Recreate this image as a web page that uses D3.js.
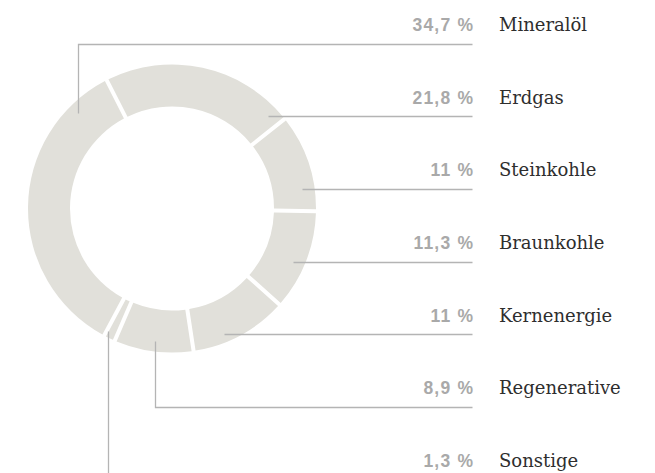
<!DOCTYPE html>
<html>
<head>
<meta charset="utf-8">
<script src="https://cdn.jsdelivr.net/npm/d3@7"></script>
<style>
  html, body { margin: 0; padding: 0; background: #fff; }
  svg { display: block; }
</style>
</head>
<body>
<svg id="chart" width="655" height="473"></svg>
<script>
// ---- data ----
const categories = ["Mineralöl", "Erdgas", "Steinkohle", "Braunkohle", "Kernenergie", "Regenerative", "Sonstige"];
const shares = [34.7, 21.8, 11, 11.3, 11, 8.9, 1.3];
const shareLabels = ["34,7 %", "21,8 %", "11 %", "11,3 %", "11 %", "8,9 %", "1,3 %"];

// ---- layout ----
const W = 655, H = 473;
const cx = 172, cy = 208.5;
const rOuter = 144, rInner = 102, rAnchor = 134;
const lineEndX = 472;
const pctRightX = 473;
const nameX = 499;
const startDeg = -151.9;
const toRad = d => d * Math.PI / 180;

// leader style: "h" = horizontal from ring at row height, "v" = elbow (vertical, then horizontal)
const leaderType = ["v", "h", "h", "h", "h", "v", "v"];
const elbowFrac = [0.86, 0.5, 0.5, 0.5, 0.5, 0.5, 0.9];
const anchorR = [134, 133, 131, 132, 136, 134, 138];

const svg = d3.select("#chart");

const rows = d3.scalePoint().domain(categories).range([31, 467]);

const pie = d3.pie().sort(null).value(d => d.v)
  .startAngle(toRad(startDeg)).endAngle(toRad(startDeg) + 2 * Math.PI);
const arcs = pie(categories.map((c, i) => ({ c, v: shares[i], i })));

const arc = d3.arc().innerRadius(rInner).outerRadius(rOuter)
  .padAngle(0.04).padRadius(100);

const g = svg.append("g").attr("transform", `translate(${cx},${cy})`);
g.selectAll("path.seg").data(arcs).join("path")
  .attr("class", "seg")
  .attr("d", arc)
  .attr("fill", "#e1e0da");

// leader lines
const lineColor = "#b4b4b4";
arcs.forEach((a, i) => {
  const yRow = rows(categories[i]);
  const yLine = yRow + 12.7;
  const r = anchorR[i];
  let pts;
  if (leaderType[i] === "h") {
    const dy = yLine - cy;
    const dx = Math.sqrt(Math.max(0, r * r - dy * dy));
    pts = [[cx + dx, yLine], [lineEndX, yLine]];
  } else {
    const ang = a.startAngle + (a.endAngle - a.startAngle) * elbowFrac[i];
    const x0 = cx + r * Math.sin(ang), y0 = cy - r * Math.cos(ang);
    pts = [[x0, y0], [x0, yLine], [lineEndX, yLine]];
  }
  svg.append("path")
    .attr("d", d3.line()(pts.map(p => [Math.round(p[0]) + 0.5, Math.round(p[1]) + 0.5])))
    .attr("fill", "none")
    .attr("stroke", lineColor)
    .attr("stroke-width", 1.3);
});

// labels
svg.selectAll("text.pct").data(categories).join("text")
  .attr("class", "pct")
  .attr("x", pctRightX + 1.2)
  .attr("y", d => rows(d))
  .attr("text-anchor", "end")
  .attr("font-family", "'Liberation Sans', Arial, sans-serif")
  .attr("font-weight", "bold")
  .attr("font-size", 17.5)
  .attr("letter-spacing", "1.2px")
  .attr("fill", "#a9a9a9")
  .text((d, i) => shareLabels[i]);

svg.selectAll("text.name").data(categories).join("text")
  .attr("class", "name")
  .attr("x", nameX)
  .attr("y", d => rows(d))
  .attr("font-family", "'DejaVu Serif', serif")
  .attr("font-size", 18)
  .attr("fill", "#2e2e2e")
  .text(d => d);
</script>
</body>
</html>
